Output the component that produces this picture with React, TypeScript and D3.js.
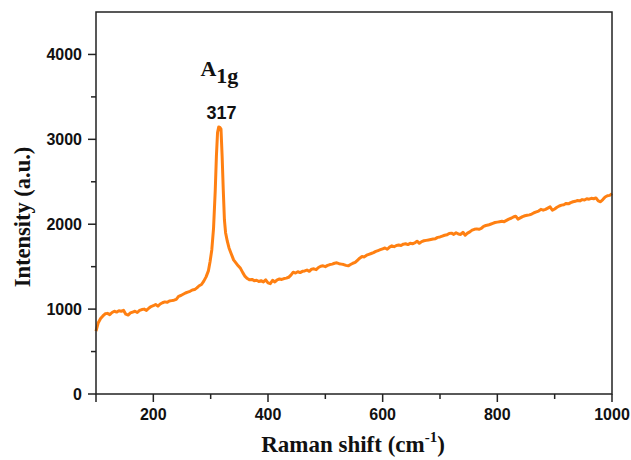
import React from "react"
import * as d3 from "d3"

// Raman spectrum
const ramanShift = [
  100, 104, 108, 112, 116, 120, 124, 128, 132, 136, 140, 144, 148, 152, 156, 160, 164, 168, 172, 176,
  180, 184, 188, 192, 196, 200, 204, 208, 212, 216, 220, 224, 228, 232, 236, 240, 244, 248, 252, 256,
  260, 264, 268, 272, 276, 280, 284, 288, 292, 296, 299, 302, 305, 308, 310, 312, 314, 316, 318, 320,
  322, 324, 326, 329, 332, 336, 340, 344, 348, 352, 356, 360, 364, 368, 372, 376, 380, 384, 388, 392,
  396, 400, 404, 408, 412, 416, 420, 424, 428, 432, 436, 440, 444, 448, 452, 456, 460, 464, 468, 472,
  476, 480, 484, 488, 492, 496, 500, 504, 508, 512, 516, 520, 524, 528, 532, 536, 540, 544, 548, 552,
  556, 560, 564, 568, 572, 576, 580, 584, 588, 592, 596, 600, 604, 608, 612, 616, 620, 624, 628, 632,
  636, 640, 644, 648, 652, 656, 660, 664, 668, 672, 676, 680, 684, 688, 692, 696, 700, 704, 708, 712,
  716, 720, 724, 728, 732, 736, 740, 744, 748, 752, 756, 760, 764, 768, 772, 776, 780, 784, 788, 792,
  796, 800, 804, 808, 812, 816, 820, 824, 828, 832, 836, 840, 844, 848, 852, 856, 860, 864, 868, 872,
  876, 880, 884, 888, 892, 896, 900, 904, 908, 912, 916, 920, 924, 928, 932, 936, 940, 944, 948, 952,
  956, 960, 964, 968, 972, 976, 980, 984, 988, 992, 996, 1000,
]
const intensity = [
  740, 840, 890, 920, 945, 950, 935, 960, 975, 965, 980, 975, 985, 940, 930, 955, 965, 975, 960, 985,
  995, 1000, 985, 1010, 1030, 1040, 1055, 1035, 1060, 1075, 1085, 1080, 1095, 1100, 1105, 1115, 1150, 1160, 1175, 1190,
  1200, 1210, 1225, 1230, 1250, 1275, 1290, 1330, 1380, 1450, 1560, 1700, 1950, 2400, 2800, 3080, 3145, 3140, 3120, 2800,
  2400, 2050, 1900, 1800, 1720, 1650, 1580, 1545, 1510, 1480, 1430, 1385, 1360, 1345, 1350, 1335, 1340, 1325, 1335, 1320,
  1345, 1310, 1300, 1340, 1320, 1345, 1355, 1350, 1360, 1365, 1375, 1400, 1435, 1425, 1440, 1430, 1445, 1450, 1460, 1445,
  1470, 1475, 1465, 1490, 1505, 1510, 1500, 1515, 1525, 1530, 1540, 1545, 1535, 1530, 1525, 1515, 1510, 1525, 1540, 1550,
  1575, 1600, 1620, 1615, 1635, 1645, 1655, 1665, 1680, 1690, 1700, 1710, 1720, 1705, 1730, 1745, 1735, 1750, 1755, 1750,
  1765, 1770, 1760, 1775, 1770, 1780, 1800, 1775, 1795, 1805, 1810, 1815, 1820, 1825, 1830, 1845, 1850, 1860, 1870, 1875,
  1890, 1895, 1880, 1900, 1885, 1880, 1905, 1870, 1895, 1910, 1930, 1940, 1945, 1940, 1950, 1975, 1985, 1990, 2000, 2010,
  2020, 2025, 2030, 2035, 2030, 2045, 2060, 2070, 2085, 2095, 2060, 2075, 2090, 2100, 2105, 2110, 2120, 2135, 2145, 2155,
  2175, 2165, 2175, 2190, 2205, 2165, 2180, 2200, 2215, 2225, 2230, 2245, 2240, 2255, 2265, 2270, 2280, 2275, 2290, 2285,
  2300, 2295, 2305, 2300, 2310, 2275, 2265, 2290, 2320, 2335, 2340, 2360,
]

const xMajor = [200, 400, 600, 800, 1000]
const xMinor = [300, 500, 700, 900]
const yMajor = [0, 1000, 2000, 3000, 4000]
const yMinor = [500, 1500, 2500, 3500]

const peakShift = 317
const peakLabel = "317"

export default function App() {
  const width = 631
  const height = 460
  const left = 96
  const right = 612
  const top = 12
  const bottom = 394

  const x = d3.scaleLinear().domain([100, 1000]).range([left, right])
  const y = d3.scaleLinear().domain([0, 4500]).range([bottom, top])

  const pts: [number, number][] = ramanShift.map((s, i) => [s, intensity[i]])
  const line = d3
    .line<[number, number]>()
    .x((d) => x(d[0]))
    .y((d) => y(d[1]))

  const sans = "'Liberation Sans', Arial, sans-serif"
  const serif = "'Liberation Serif', 'Times New Roman', serif"
  const axisColor = "#222"

  return (
    <div style={{ position: "fixed", left: 0, top: 0 }}>
      <svg width={width} height={height} style={{ display: "block", background: "#fff" }}>
        <path d={line(pts) || ""} fill="none" stroke="#ff8012" strokeWidth={3} strokeLinejoin="round" />

        {/* frame */}
        <rect x={left} y={top} width={right - left} height={bottom - top} fill="none" stroke={axisColor} strokeWidth={1.5} />

        {/* x ticks */}
        {xMajor.map((t) => (
          <g key={"xm" + t}>
            <line x1={x(t)} x2={x(t)} y1={bottom} y2={bottom + 8} stroke={axisColor} strokeWidth={1.5} />
            <text x={x(t)} y={420} textAnchor="middle" fontFamily={sans} fontWeight="bold" fontSize={16} fill="#111">
              {t}
            </text>
          </g>
        ))}
        {xMinor.map((t) => (
          <line key={"xn" + t} x1={x(t)} x2={x(t)} y1={bottom} y2={bottom + 5} stroke={axisColor} strokeWidth={1.5} />
        ))}
        <line x1={left} x2={left} y1={bottom} y2={bottom + 8} stroke={axisColor} strokeWidth={1.5} />

        {/* y ticks */}
        {yMajor.map((t) => (
          <g key={"ym" + t}>
            <line x1={left - 8} x2={left} y1={y(t)} y2={y(t)} stroke={axisColor} strokeWidth={1.5} />
            <text x={82} y={y(t)} dy="0.36em" textAnchor="end" fontFamily={sans} fontWeight="bold" fontSize={16} fill="#111">
              {t}
            </text>
          </g>
        ))}
        {yMinor.map((t) => (
          <line key={"yn" + t} x1={left - 5} x2={left} y1={y(t)} y2={y(t)} stroke={axisColor} strokeWidth={1.5} />
        ))}

        {/* axis titles */}
        <text x={353} y={452} textAnchor="middle" fontFamily={serif} fontWeight="bold" fontSize={23} fill="#111">
          Raman shift (cm
          <tspan fontSize={15} dy={-10}>-1</tspan>
          <tspan dy={10}>)</tspan>
        </text>
        <text
          transform={`translate(30,${217}) rotate(-90)`}
          textAnchor="middle"
          fontFamily={serif}
          fontWeight="bold"
          fontSize={22.5}
          fill="#111"
        >
          Intensity (a.u.)
        </text>

        {/* peak annotation */}
        <text x={x(peakShift) - 20} y={76} fontFamily={serif} fontWeight="bold" fontSize={22} fill="#111">
          A<tspan dy={7}>1g</tspan>
        </text>
        <text x={x(peakShift) + 1} y={119} textAnchor="middle" fontFamily={sans} fontWeight="bold" fontSize={18} fill="#111">
          {peakLabel}
        </text>
      </svg>
    </div>
  )
}
